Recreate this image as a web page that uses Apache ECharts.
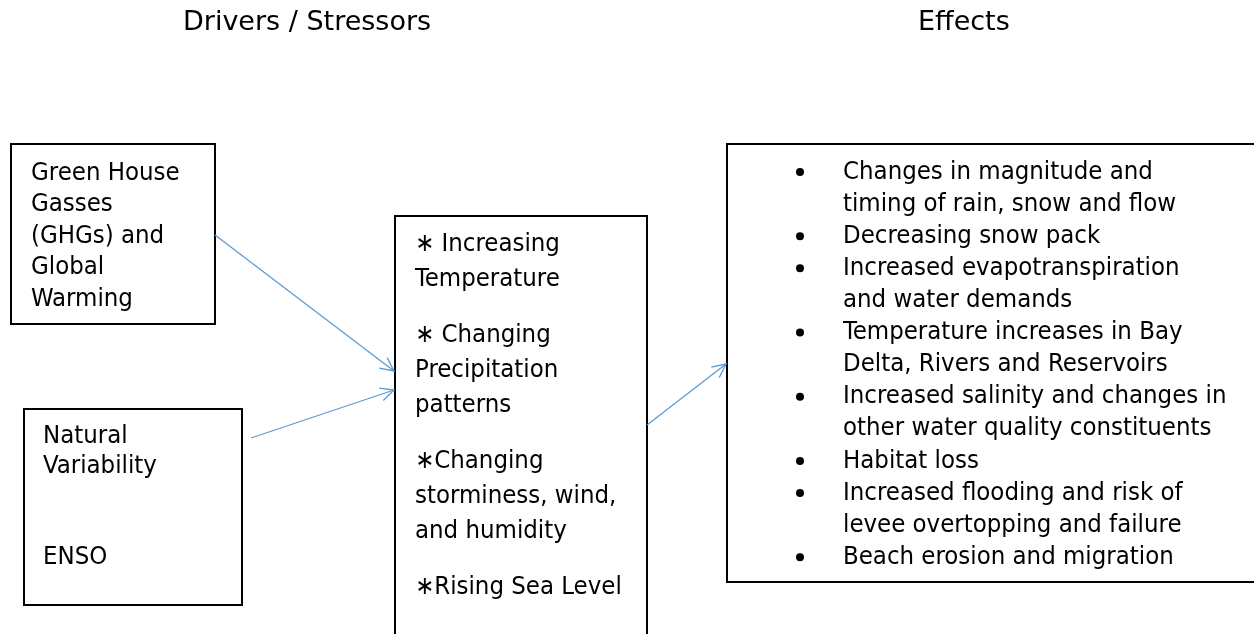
<!DOCTYPE html>
<html>
<head>
<meta charset="utf-8">
<script src="https://cdn.jsdelivr.net/npm/echarts@6/dist/echarts.min.js"></script>
<style>
  html, body { margin: 0; padding: 0; background: #fff; }
  #main { width: 1254px; height: 634px; }
</style>
</head>
<body>
<div id="main"></div>
<script>
// diagram content
const headings = ['Drivers / Stressors', 'Effects'];
const driverLines = ['Green House', 'Gasses', '(GHGs) and', 'Global', 'Warming'];
const naturalLines = ['Natural', 'Variability', '', '', 'ENSO'];
const stressorParas = [
  ['\u2217 Increasing', 'Temperature'],
  ['\u2217 Changing', 'Precipitation', 'patterns'],
  ['\u2217Changing', 'storminess, wind,', 'and humidity'],
  ['\u2217Rising Sea Level']
];
const effectItems = [
  ['Changes in magnitude and', 'timing of rain, snow and flow'],
  ['Decreasing snow pack'],
  ['Increased evapotranspiration', 'and water demands'],
  ['Temperature increases in Bay', 'Delta, Rivers and Reservoirs'],
  ['Increased salinity and changes in', 'other water quality constituents'],
  ['Habitat loss'],
  ['Increased flooding and risk of', 'levee overtopping and failure'],
  ['Beach erosion and migration']
];
// arrows: from box -> to box
const links = [['ghg', 'stress'], ['natural', 'stress'], ['stress', 'effects']];

// layout (pixels)
const FONT = '"DejaVu Sans Condensed", "Liberation Sans Narrow", "DejaVu Sans", sans-serif';
const TITLE_FONT = '"DejaVu Sans", Verdana, sans-serif';
const FS = 25.5;
const boxes = {
  ghg:     { x: 11,  y: 144, w: 204, h: 180 },
  natural: { x: 24,  y: 409, w: 218, h: 196 },
  stress:  { x: 395, y: 216, w: 252, h: 440 },
  effects: { x: 727, y: 144, w: 560, h: 438 }
};
const anchors = {
  'ghg-stress':     [[215, 235], [394, 371]],
  'natural-stress': [[251, 438], [394, 390]],
  'stress-effects': [[647, 425], [726, 364]]
};

function txt(s, x, y, font) {
  return {
    type: 'text', x: x, y: y, silent: true,
    style: { text: s, font: font || (FS + 'px ' + FONT), fill: '#000', verticalAlign: 'middle', align: 'left' }
  };
}

const elements = [];

elements.push(txt(headings[0], 183, 23, '27px ' + TITLE_FONT));
elements.push(txt(headings[1], 918, 23, '27px ' + TITLE_FONT));

Object.keys(boxes).forEach(function (k) {
  const b = boxes[k];
  elements.push({
    type: 'rect', silent: true,
    shape: { x: b.x, y: b.y, width: b.w, height: b.h },
    style: { fill: '#fff', stroke: '#000', lineWidth: 2 }
  });
});

driverLines.forEach(function (s, i) {
  elements.push(txt(s, 31, 173 + 31.5 * i));
});
naturalLines.forEach(function (s, i) {
  if (s) elements.push(txt(s, 43, 436 + 30.3 * i));
});

let y = 244;
stressorParas.forEach(function (p) {
  p.forEach(function (s) {
    elements.push(txt(s, 415, y));
    y += 35;
  });
  y += 21;
});

let row = 0;
effectItems.forEach(function (item) {
  const yy = 172 + 32.1 * row;
  elements.push({
    type: 'circle', silent: true,
    shape: { cx: 800, cy: yy, r: 4 },
    style: { fill: '#000' }
  });
  item.forEach(function (s) {
    elements.push(txt(s, 843, 172 + 32.1 * row));
    row++;
  });
});

links.forEach(function (l) {
  const pts = anchors[l[0] + '-' + l[1]];
  const p0 = pts[0], p1 = pts[1];
  const ang = Math.atan2(p1[1] - p0[1], p1[0] - p0[0]);
  const len = 15, spread = 0.45;
  const a1 = [p1[0] - len * Math.cos(ang - spread), p1[1] - len * Math.sin(ang - spread)];
  const a2 = [p1[0] - len * Math.cos(ang + spread), p1[1] - len * Math.sin(ang + spread)];
  elements.push({
    type: 'line', silent: true, z: 10,
    shape: { x1: p0[0], y1: p0[1], x2: p1[0], y2: p1[1] },
    style: { stroke: '#5b9bd5', lineWidth: 1.3 }
  });
  elements.push({
    type: 'polyline', silent: true, z: 10,
    shape: { points: [a1, p1, a2] },
    style: { stroke: '#5b9bd5', lineWidth: 1.3, fill: null }
  });
});

const chart = echarts.init(document.getElementById('main'), null, { renderer: 'canvas' });
chart.setOption({
  backgroundColor: '#fff',
  animation: false,
  graphic: { elements: elements }
});
</script>
</body>
</html>
